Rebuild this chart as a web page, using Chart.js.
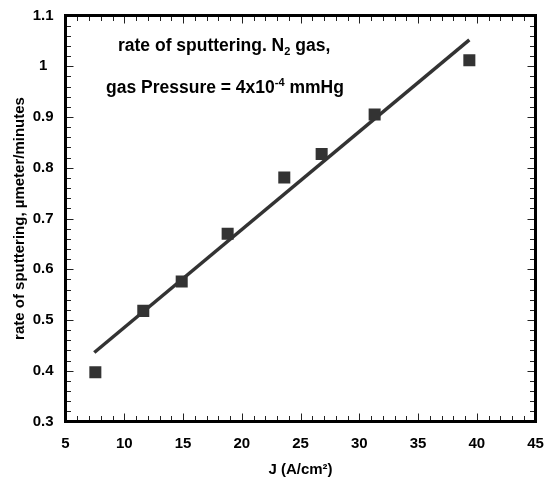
<!DOCTYPE html>
<html>
<head>
<meta charset="utf-8">
<script src="https://cdn.jsdelivr.net/npm/chart.js@4"></script>
<style>
  html, body { margin: 0; padding: 0; background: #fff; }
  canvas { display: block; }
</style>
</head>
<body>
<canvas id="chart" width="544" height="479"></canvas>
<script>
// Measured sputtering rate versus current density
const currentDensity = [7.54, 11.62, 14.89, 18.80, 23.62, 26.80, 31.31, 39.37];
const sputterRate    = [0.397, 0.518, 0.576, 0.670, 0.781, 0.827, 0.905, 1.012];

// Straight-line fit drawn through the measurements (end points)
const fitDensity = [7.45, 39.37];
const fitRate    = [0.436, 1.052];

// Axis tick labels
const xTickLabels = ['5', '10', '15', '20', '25', '30', '35', '40', '45'];
const yTickLabels = ['0.3', '0.4', '0.5', '0.6', '0.7', '0.8', '0.9', '1', '1.1'];

const FONT = '"Liberation Sans", Arial, Helvetica, sans-serif';
const INK = '#000';
const MARK = '#333333';

const toPoints = (xs, ys) => xs.map((x, i) => ({ x, y: ys[i] }));

// Closed frame with inward major/minor ticks on all four sides
const framePlugin = {
  id: 'frame',
  afterDraw(chart) {
    const { ctx, chartArea: a, scales: { x, y } } = chart;
    ctx.save();
    ctx.strokeStyle = '#222';
    ctx.lineWidth = 1;
    const xMin = x.min, xMax = x.max;
    for (let i = 0; i <= Math.round(xMax - xMin); i++) {
      const v = xMin + i;
      const px = Math.round(x.getPixelForValue(v)) + 0.5;
      const len = (Math.round(v) % 5 === 0) ? 8 : 5.5;
      ctx.beginPath();
      ctx.moveTo(px, a.bottom); ctx.lineTo(px, a.bottom - len);
      ctx.moveTo(px, a.top); ctx.lineTo(px, a.top + len);
      ctx.stroke();
    }
    const nY = Math.round((y.max - y.min) / 0.02);
    for (let i = 0; i <= nY; i++) {
      const v = y.min + i * 0.02;
      const py = Math.round(y.getPixelForValue(v)) + 0.5;
      const len = (i % 5 === 0) ? 8 : 5.5;
      ctx.beginPath();
      ctx.moveTo(a.left, py); ctx.lineTo(a.left + len, py);
      ctx.moveTo(a.right, py); ctx.lineTo(a.right - len, py);
      ctx.stroke();
    }
    ctx.strokeStyle = INK;
    ctx.lineWidth = 3;
    ctx.strokeRect(a.left, a.top, a.right - a.left, a.bottom - a.top);
    ctx.restore();
  }
};

// Two-line caption with sub/superscripts inside the plot
const captionPlugin = {
  id: 'caption',
  afterDraw(chart) {
    const { ctx } = chart;
    const big = 'bold 17.5px ' + FONT;
    const small = 'bold 11px ' + FONT;
    const runs = (parts, x0, base) => {
      let xx = x0;
      parts.forEach(([text, font, dy]) => {
        ctx.font = font;
        ctx.fillText(text, xx, base + dy);
        xx += ctx.measureText(text).width;
      });
    };
    ctx.save();
    ctx.fillStyle = INK;
    ctx.textBaseline = 'alphabetic';
    ctx.textAlign = 'left';
    runs([['rate of sputtering. N', big, 0], ['2', small, 4], [' gas,', big, 0]], 118, 51);
    runs([['gas Pressure = 4x10', big, 0], ['-4', small, -7], [' mmHg', big, 0]], 106, 93);
    ctx.restore();
  }
};

new Chart(document.getElementById('chart'), {
  type: 'scatter',
  data: {
    datasets: [
      {
        label: 'fit',
        data: toPoints(fitDensity, fitRate),
        showLine: true,
        borderColor: MARK,
        borderWidth: 3.5,
        pointRadius: 0,
        fill: false,
        order: 2
      },
      {
        label: 'rate',
        data: toPoints(currentDensity, sputterRate),
        pointStyle: 'rect',
        pointRadius: 8.5,
        pointHoverRadius: 8.5,
        backgroundColor: MARK,
        borderWidth: 0,
        order: 1
      }
    ]
  },
  options: {
    responsive: false,
    animation: false,
    events: [],
    layout: { padding: { left: 0, right: 8.5, top: 15.5, bottom: 0 } },
    plugins: { legend: { display: false }, tooltip: { enabled: false } },
    scales: {
      x: {
        type: 'linear',
        min: 5, max: 45,
        grid: { display: false, drawTicks: false },
        border: { display: false },
        ticks: {
          stepSize: 5,
          padding: 13,
          color: INK,
          font: { family: FONT, size: 15, weight: 'bold' },
          callback: (v) => xTickLabels[Math.round((v - 5) / 5)]
        },
        title: {
          display: true,
          text: 'J (A/cm²)',
          color: INK,
          padding: { top: 0, bottom: 0 },
          font: { family: FONT, size: 15, weight: 'bold' }
        },
        afterFit: (s) => {
          s.height = 57.5;
          s.paddingLeft = 0;
          s.paddingRight = 0;
        }
      },
      y: {
        type: 'linear',
        min: 0.3, max: 1.1,
        grid: { display: false, drawTicks: false },
        border: { display: false },
        ticks: {
          stepSize: 0.1,
          padding: 12,
          crossAlign: 'center',
          color: INK,
          font: { family: FONT, size: 15, weight: 'bold' },
          callback: (v) => yTickLabels[Math.round((v - 0.3) * 10)]
        },
        title: {
          display: true,
          text: 'rate of sputtering, µmeter/minutes',
          color: INK,
          padding: { top: 10.5, bottom: 0 },
          font: { family: FONT, size: 15, weight: 'bold' }
        },
        afterFit: (s) => {
          s.width = 65.5;
          s.paddingTop = 0;
          s.paddingBottom = 0;
        }
      }
    }
  },
  plugins: [framePlugin, captionPlugin]
});
</script>
</body>
</html>
